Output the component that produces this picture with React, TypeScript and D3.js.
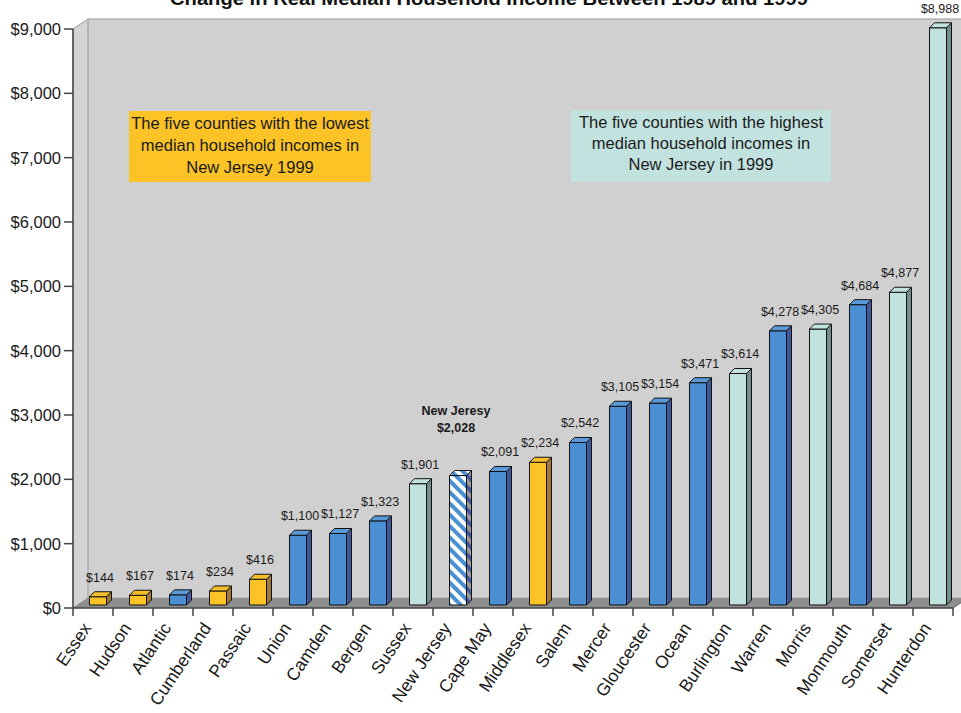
import React from "react";
import * as d3 from "d3";

const categories = ["Essex","Hudson","Atlantic","Cumberland","Passaic","Union","Camden","Bergen","Sussex","New Jersey","Cape May","Middlesex","Salem","Mercer","Gloucester","Ocean","Burlington","Warren","Morris","Monmouth","Somerset","Hunterdon"];
const values = [144,167,174,234,416,1100,1127,1323,1901,2028,2091,2234,2542,3105,3154,3471,3614,4278,4305,4684,4877,8988];
const groups = ["low","low","mid","low","low","mid","mid","mid","high","nj","mid","low","mid","mid","mid","mid","high","mid","high","mid","high","high"];
const yTicks = [0,1000,2000,3000,4000,5000,6000,7000,8000,9000];
const title = "Change in Real Median Household Income Between 1989 and 1999";
const lowNote = ["The five counties with the lowest","median household incomes in","New Jersey 1999"];
const highNote = ["The five counties with the highest","median household incomes in","New Jersey in 1999"];

const palette: Record<string, { front: string; side: string; top: string }> = {
  low: { front: "#FBC326", side: "#A27A35", top: "#F5BE2A" },
  mid: { front: "#4A8FD2", side: "#41589C", top: "#5A9AD8" },
  high: { front: "#C2E2E0", side: "#6F8E8A", top: "#C2E2E0" },
  nj: { front: "url(#hatch)", side: "url(#hatchSide)", top: "url(#hatch)" },
};

const FONT = "Arial, 'Liberation Sans', sans-serif";

export default function App() {
  const W = 961, H = 713;
  const x0 = 73, x1 = 953, yTop = 29, yBase = 608;
  const dx = 15, dy = 10;
  const x = d3.scaleBand<string>().domain(categories).range([x0, x1]).padding(0);
  const y = d3.scaleLinear().domain([0, 9000]).range([yBase, yTop]);
  const fmt = d3.format(",");
  const bw = 17, bd = 5, bOff = 5, bLift = 2;

  return (
    <svg width={W} height={H} style={{ position: "absolute", left: 0, top: 0, background: "#fff" }}>
      <defs>
        <pattern id="hatch" width="8" height="8" patternUnits="userSpaceOnUse" patternTransform="rotate(-45)">
          <rect width="8" height="8" fill="#fff" />
          <rect width="4" height="8" fill="#4A8FD2" />
        </pattern>
        <pattern id="hatchSide" width="8" height="8" patternUnits="userSpaceOnUse" patternTransform="rotate(-45)">
          <rect width="8" height="8" fill="#9a9a9a" />
          <rect width="4" height="8" fill="#41589C" />
        </pattern>
      </defs>
      <text x={489} y={5} textAnchor="middle" fontFamily="'Liberation Sans Narrow', 'Arial Narrow', Arial, sans-serif" fontWeight="bold" fontSize={19} textLength={638} lengthAdjust="spacingAndGlyphs" fill="#111">{title}</text>

      {/* back wall */}
      <rect x={x0 + dx} y={yTop - dy} width={W} height={yBase - yTop} fill="#D0D0D0" />
      {/* left side wall */}
      <polygon points={`${x0},${yTop} ${x0 + dx},${yTop - dy} ${x0 + dx},${yBase - dy} ${x0},${yBase}`} fill="#D4D4D4" stroke="#999" strokeWidth={1} />
      <line x1={x0 + dx} y1={yTop - dy} x2={W} y2={yTop - dy} stroke="#999" strokeWidth={1} />
      {/* floor */}
      <polygon points={`${x0},${yBase} ${x0 + dx},${yBase - dy} ${x1 + dx},${yBase - dy} ${x1},${yBase}`} fill="#8E8E8E" stroke="#8E8E8E" strokeWidth={0.5} />

      {/* notes */}
      <rect x={129} y={111} width={242} height={71} fill="#FBC326" />
      {lowNote.map((t, i) => (
        <text key={t} x={250} y={129 + i * 22} textAnchor="middle" fontFamily={FONT} fontSize={16.5} fill="#1a1a1a">{t}</text>
      ))}
      <rect x={571} y={110} width={260} height={72} fill="#C2E2E0" />
      {highNote.map((t, i) => (
        <text key={t} x={701} y={128 + i * 21} textAnchor="middle" fontFamily={FONT} fontSize={16.5} fill="#1a1a1a">{t}</text>
      ))}

      {/* bars */}
      {categories.map((c, i) => {
        const v = values[i];
        const col = palette[groups[i]];
        const cx = (x(c) as number) + x.bandwidth() / 2 + bOff;
        const l = cx - bw / 2, r = cx + bw / 2;
        const top = y(v) - bLift, bot = yBase - 3;
        return (
          <g key={c} stroke="#111" strokeWidth={1} strokeLinejoin="round">
            <rect x={l} y={top} width={bw} height={bot - top} fill={col.front} />
            <polygon points={`${r},${top} ${r + bd},${top - bd} ${r + bd},${bot - bd} ${r},${bot}`} fill={col.side} />
            <polygon points={`${l},${top} ${l + bd},${top - bd} ${r + bd},${top - bd} ${r},${top}`} fill={col.top} />
            {groups[i] !== "nj" && (
              <text x={cx + 2} y={top - 15} textAnchor="middle" fontFamily={FONT} fontSize={12.5} fill="#1a1a1a" stroke="none">{"$" + fmt(v)}</text>
            )}
            {groups[i] === "nj" && (
              <g stroke="none" fontFamily={FONT} fontWeight="bold" fontSize={12.5} fill="#1a1a1a" textAnchor="middle">
                <text x={cx - 2} y={415}>New Jeresy</text>
                <text x={cx - 2} y={432}>{"$" + fmt(v)}</text>
              </g>
            )}
          </g>
        );
      })}

      {/* axes */}
      <line x1={x0} y1={yTop} x2={x0} y2={yBase} stroke="#444" strokeWidth={1.5} />
      <line x1={x0} y1={yBase} x2={x1} y2={yBase} stroke="#444" strokeWidth={1.5} />
      <line x1={x1} y1={yBase} x2={x1 + dx} y2={yBase - dy} stroke="#666" strokeWidth={1} />
      {yTicks.map((t) => (
        <g key={t}>
          <line x1={x0 - 9} y1={y(t)} x2={x0} y2={y(t)} stroke="#444" strokeWidth={1.5} />
          <text x={x0 - 12} y={y(t) + 6} textAnchor="end" fontFamily={FONT} fontSize={16.5} fill="#1a1a1a">{"$" + fmt(t)}</text>
        </g>
      ))}
      {categories.map((c) => (
        <line key={c + "t"} x1={x(c) as number} y1={yBase} x2={x(c) as number} y2={yBase + 8} stroke="#444" strokeWidth={1.5} />
      ))}
      <line x1={x1} y1={yBase} x2={x1} y2={yBase + 8} stroke="#444" strokeWidth={1.5} />
      {categories.map((c) => {
        const cx = (x(c) as number) + x.bandwidth() / 2 - 1;
        return (
          <text key={c + "l"} transform={`translate(${cx},${628}) rotate(-56)`} textAnchor="end" fontFamily={FONT} fontSize={17.5} fill="#1a1a1a">{c}</text>
        );
      })}
    </svg>
  );
}
